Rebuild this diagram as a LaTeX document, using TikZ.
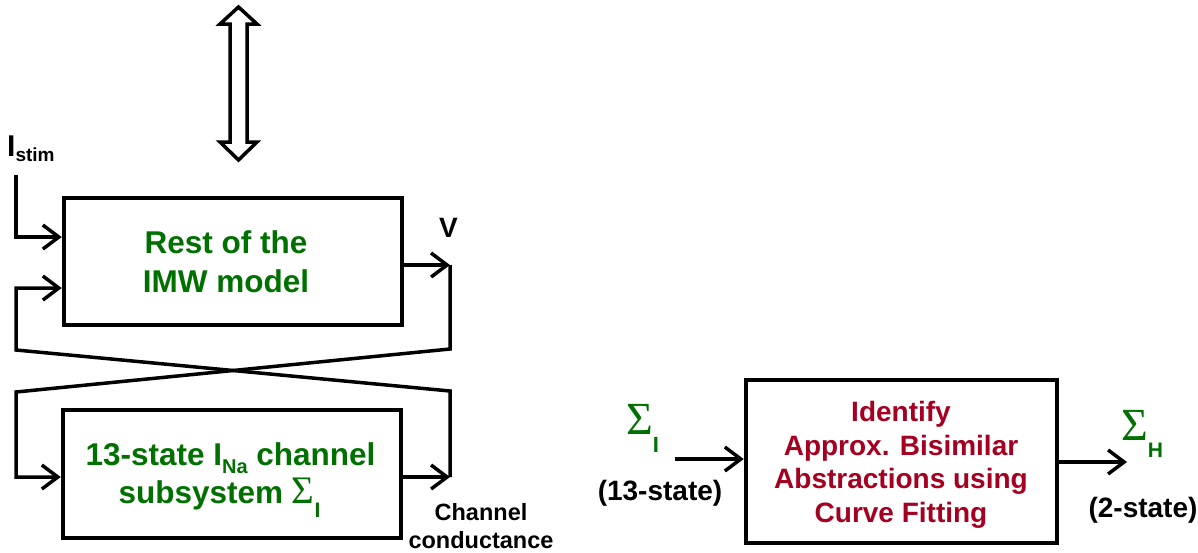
\documentclass[tikz,border=0pt]{standalone}
\usepackage{fontspec}
\setmainfont{Liberation Sans}
\newfontfamily\greekserif{Liberation Serif}
\usetikzlibrary{arrows.meta}
\definecolor{modelgreen}{RGB}{0,112,0}
\definecolor{stepred}{RGB}{165,0,33}
\newcommand{\fsz}[1]{\fontsize{#1}{#1}\selectfont}

\begin{document}
\begin{tikzpicture}[x=1pt,y=-1pt,
  block/.style={draw, line width=4.5pt, inner sep=0pt, fill=white},
  wire/.style={line width=3.5pt, line join=miter},
  tip/.style={-{Straight Barb[length=16pt,width=24pt]}},
  txt/.style={inner sep=0pt, anchor=base, font=\bfseries},
  greentxt/.style={txt, text=modelgreen, font=\bfseries\fsz{31.5}},
  redtxt/.style={txt, text=stepred, font=\bfseries\fsz{28}},
  blacktxt/.style={txt, text=black}]

\useasboundingbox (0,0) rectangle (1198,552);
\fill[white] (0,0) rectangle (1198,552);

% double-headed link above the model
\draw[line width=3.5pt, line join=miter, fill=white]
  (238.5,7) -- (257,24) -- (247,24) -- (247,142) -- (257,142)
  -- (238.5,160) -- (220,142) -- (230,142) -- (230,24) -- (220,24) -- cycle;

% blocks
\node[block, minimum width=338pt, minimum height=127pt] (imw) at (233,261.5) {};
\node[block, minimum width=338pt, minimum height=128pt] (chan) at (232,474) {};
\node[block, minimum width=311pt, minimum height=163pt] (abs) at (901.5,461.5) {};

% block texts
\node[greentxt] (imw1) at (226,253) {Rest of the};
\node[greentxt] (imw2) at (226,292) {IMW model};
\node[greentxt] (chan1) at (230.5,465) {13-state I\raisebox{-8pt}{\fsz{20}Na} channel};
\node[greentxt] (chan2) at (219.5,503) {subsystem {\greekserif\mdseries\fsz{39}Σ}\raisebox{-14pt}{\fsz{21}I}};
\node[redtxt] (abs1) at (901,421) {Identify};
\node[redtxt] (abs2) at (901,455) {Approx. Bisimilar};
\node[redtxt] (abs3) at (901,488) {Abstractions using};
\node[redtxt] (abs4) at (901,522) {Curve Fitting};

% signal labels
\node[blacktxt, anchor=base west] (istim) at (7,156) {{\fsz{30}I}\raisebox{-5pt}{\fsz{19}stim}};
\node[blacktxt, anchor=base west, font=\bfseries\fsz{28}] (vlab) at (439,237) {V};
\node[blacktxt, font=\bfseries\fsz{23.5}] (cc1) at (481,520) {Channel};
\node[blacktxt, font=\bfseries\fsz{23.5}] (cc2) at (481,548) {conductance};
\node[blacktxt, font=\bfseries\fsz{28}] (n13) at (660,500) {(13-state)};
\node[blacktxt, font=\bfseries\fsz{28}] (n2) at (1143,517) {(2-state)};
\node[txt, anchor=base west, text=modelgreen] (sigI) at (626,434)
  {{\greekserif\mdseries\fsz{46}Σ}\raisebox{-18pt}{\fsz{22}I}};
\node[txt, anchor=base west, text=modelgreen] (sigH) at (1121,440)
  {{\greekserif\mdseries\fsz{46}Σ}\raisebox{-17pt}{\fsz{21}H}};

% stimulus current into the model
\coordinate (stimtop) at (16,175);
\draw[wire, tip] (stimtop) |- (imw.west |- 0,237);

% membrane potential V out of the model, fed to the channel
\coordinate (vout) at (450,265);
\coordinate (vdown) at (450,349);
\coordinate (vleft) at (16,392);
\draw[wire, tip] (imw.east |- vout) -- (vout);
\draw[wire, tip] (vout) -- (vdown) -- (vleft) |- (chan.west |- 0,477);

% channel conductance out of the channel, fed back to the model
\coordinate (gout) at (450,477);
\coordinate (gup) at (450,391);
\coordinate (gleft) at (16,350);
\draw[wire, tip] (chan.east |- gout) -- (gout);
\draw[wire, tip] (gout) -- (gup) -- (gleft) |- (imw.west |- 0,288);

% abstraction step
\coordinate (sigin) at (675,459);
\draw[wire, tip] (sigin) -- (abs.west |- sigin);
\coordinate (sigout) at (1127,462);
\draw[wire, tip] (abs.east |- sigout) -- (sigout);
\end{tikzpicture}
\end{document}
